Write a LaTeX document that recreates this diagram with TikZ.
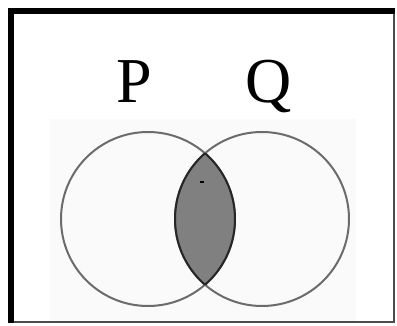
\documentclass[tikz,border=0pt]{standalone}
\usepackage{fontspec}
\setmainfont{Liberation Serif}
\begin{document}
\begin{tikzpicture}[x=1pt,y=-1pt,
  circ/.style={draw=black!58,line width=2pt},
  lab/.style={font=\fontsize{64}{64}\selectfont,inner sep=0pt,anchor=base}]
\useasboundingbox (0,0) rectangle (397,326);
\fill[white] (0,0) rectangle (397,326);
\fill[black!2] (50,119) rectangle (356,321);
\coordinate (cp) at (148,219);
\coordinate (cq) at (262,219);
\begin{scope}
  \clip (cp) circle (87);
  \fill[black!50] (cq) circle (87);
\end{scope}
\draw[circ] (cp) circle (87);
\draw[circ] (cq) circle (87);
\begin{scope}
  \clip (cp) circle (87);
  \draw[black!85,line width=2pt] (cq) circle (87);
\end{scope}
\begin{scope}
  \clip (cq) circle (87);
  \draw[black!85,line width=2pt] (cp) circle (87);
\end{scope}
\fill[black] (200,181) rectangle (204,183);
\node[lab] (p) at (134,103) {P};
\node[lab] (q) at (269,103) {Q};
% border
\fill[black!70] (393,9) rectangle (395,323);
\fill[black!70] (9,321) rectangle (395,323);
\fill[black] (8,8) rectangle (14,323);
\fill[black] (8,8) rectangle (395,14);
\end{tikzpicture}
\end{document}
